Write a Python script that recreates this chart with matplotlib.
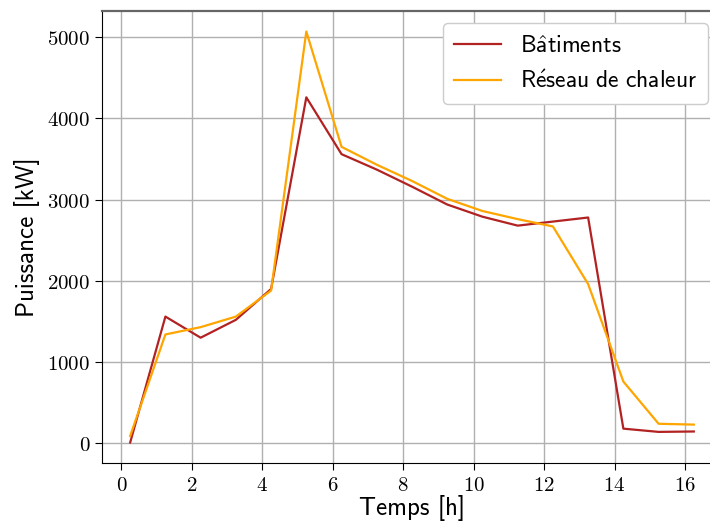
import matplotlib
matplotlib.use("Agg")
import matplotlib.pyplot as plt
from matplotlib.ticker import FuncFormatter

plt.rcParams['mathtext.fontset'] = 'cm'

hours = [0.25, 1.25, 2.25, 3.25, 4.25, 5.25, 6.25, 7.25, 8.25, 9.25, 10.25,
         11.25, 12.25, 13.25, 14.25, 15.25, 16.25]
batiments = [10, 1560, 1300, 1520, 1900, 4260, 3560, 3370, 3160, 2940, 2790,
             2680, 2730, 2780, 180, 140, 145]
reseau = [90, 1340, 1430, 1560, 1880, 5070, 3650, 3430, 3230, 3010, 2860,
          2760, 2670, 1960, 760, 240, 230]

xticks = [0, 2, 4, 6, 8, 10, 12, 14, 16]
yticks = [0, 1000, 2000, 3000, 4000, 5000]

fig = plt.figure(figsize=(7.1, 5.22), dpi=100)
ax = fig.add_axes([102/710, 1-463/522, 620/710, (463-11)/522])

ax.plot(hours, batiments, color='#b22222', lw=1.6,
        label=r'$\mathsf{B\hat{a}timents}$')
ax.plot(hours, reseau, color='#ffa500', lw=1.6,
        label=r'$\mathsf{R\acute{e}seau\ de\ chaleur}$')

ax.set_xticks(xticks)
ax.set_yticks(yticks)
fmt = FuncFormatter(lambda v, p: r'$%d$' % v)
ax.xaxis.set_major_formatter(fmt)
ax.yaxis.set_major_formatter(fmt)
ax.tick_params(labelsize=15, length=5)
ax.grid(True, color='#b0b0b0', lw=1.0)
ax.set_axisbelow(True)

ax.set_xlabel('Temps [h]', fontsize=18, labelpad=0, family='cmss10')
ax.set_ylabel('Puissance [kW]', fontsize=18, labelpad=5, family='cmss10')

ax.spines['right'].set_visible(False)
ax.spines['top'].set_color('#666666')
ax.spines['top'].set_linewidth(1.6)

leg = ax.legend(loc='upper right', fontsize=17,
                framealpha=1.0, edgecolor='#cccccc', handlelength=2.0,
                borderaxespad=0.0, labelspacing=0.5, borderpad=0.45)
leg.set_bbox_to_anchor((708/710, 1 - 23/522), transform=fig.transFigure)

fig.savefig('out.png', dpi=100)
